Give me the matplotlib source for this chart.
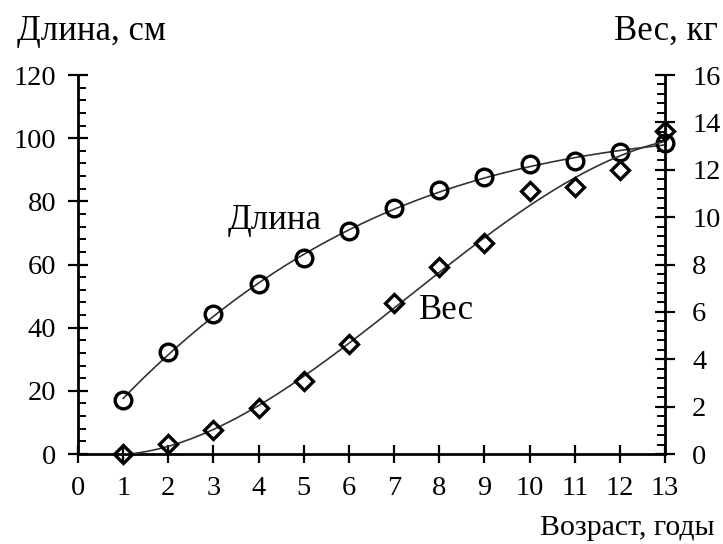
import numpy as np
import matplotlib.pyplot as plt
from matplotlib.ticker import MultipleLocator

# возраст, годы
vozrast = [1, 2, 3, 4, 5, 6, 7, 8, 9, 10, 11, 12, 13]
# длина, см
dlina = [17, 32.4, 44.2, 53.8, 62, 70.6, 78, 83.5, 87.6, 91.8, 92.7, 95.6, 98.4]
# вес, кг
ves = [0, 0.41, 1.01, 1.93, 3.09, 4.64, 6.36, 7.9, 8.89, 11.11, 11.28, 11.98, 13.63]

plt.rcParams["font.family"] = ["Liberation Serif", "DejaVu Serif"]
plt.rcParams["font.size"] = 20.5

fig = plt.figure(figsize=(7.23, 5.44), dpi=100)
ax = fig.add_axes([0.1079, 0.1654, 0.8119, 0.6967])
ax2 = ax.twinx()

# сглаживающие кривые (полиномиальная аппроксимация)
xs = np.linspace(1, 13, 200)
k_d = np.polyfit(vozrast, dlina, 3)
k_v = np.polyfit(vozrast, ves, 3)
ax.plot(xs, np.polyval(k_d, xs), color="#333333", lw=1.2, zorder=2)
ax2.plot(xs, np.clip(np.polyval(k_v, xs), 0, None), color="#333333", lw=1.2, zorder=2)

ax.plot(vozrast, dlina, "o", ms=12, mfc="none", mec="black", mew=2.4, zorder=3,
        clip_on=False)
ax2.plot(vozrast, ves, "D", ms=9.5, mfc="none", mec="black", mew=2.4, zorder=3,
         clip_on=False)

ax.set_xlim(0, 13)
ax.set_ylim(0, 120)
ax2.set_ylim(0, 16)

for a in (ax, ax2):
    a.spines["top"].set_visible(False)
    for s in a.spines.values():
        s.set_linewidth(2)

ax.spines["right"].set_visible(False)
ax2.spines["left"].set_visible(False)
ax2.spines["bottom"].set_visible(False)

ax.set_xticks(range(0, 14))
ax.set_yticks(range(0, 121, 20))
ax.yaxis.set_minor_locator(MultipleLocator(4))
ax2.set_yticks(range(0, 17, 2))
ax2.yaxis.set_minor_locator(MultipleLocator(0.4))

ax.tick_params(axis="x", direction="inout", length=13, width=1.6, pad=9)
ax.tick_params(axis="y", which="major", direction="inout", length=15, width=1.6, pad=8)
ax.tick_params(axis="y", which="minor", direction="in", length=6, width=1.4)
ax2.tick_params(axis="y", which="major", direction="inout", length=15, width=1.6, pad=12)
ax2.tick_params(axis="y", which="minor", direction="in", length=6, width=1.4)

fig.text(17 / 723, 1 - 40 / 544, "Длина, см", ha="left", va="baseline", fontsize=25)
fig.text(718 / 723, 1 - 40 / 544, "Вес, кг", ha="right", va="baseline", fontsize=25)
fig.text(715 / 723, 1 - 535 / 544, "Возраст, годы", ha="right", va="baseline",
         fontsize=21.5)

ax.text(4.36, 74, "Длина", ha="center", va="center", fontsize=25)
ax2.text(8.16, 6.08, "Вес", ha="center", va="center", fontsize=25)

fig.savefig("out.png", dpi=100)
